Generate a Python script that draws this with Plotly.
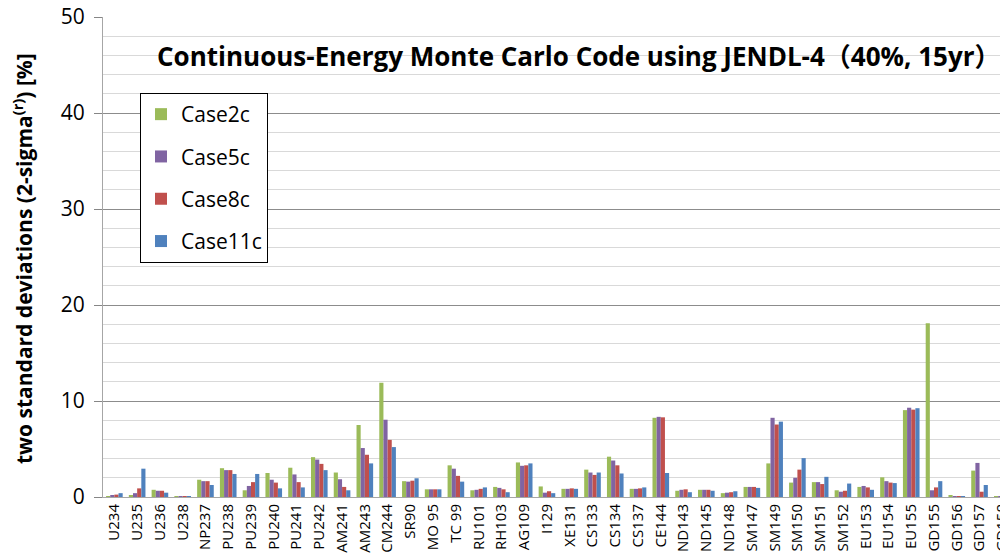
import plotly.graph_objects as go

categories = ["U234", "U235", "U236", "U238", "NP237", "PU238", "PU239", "PU240", "PU241", "PU242",
              "AM241", "AM243", "CM244", "SR90", "MO 95", "TC 99", "RU101", "RH103", "AG109", "I129",
              "XE131", "CS133", "CS134", "CS137", "CE144", "ND143", "ND145", "ND148", "SM147", "SM149",
              "SM150", "SM151", "SM152", "EU153", "EU154", "EU155", "GD155", "GD156", "GD157", "GD158"]

case2c = [0.1, 0.2, 0.75, 0.05, 1.8, 3.0, 0.7, 2.5, 3.05, 4.15,
          2.55, 7.5, 11.9, 1.65, 0.8, 3.3, 0.7, 1.05, 3.6, 1.1,
          0.85, 2.85, 4.2, 0.85, 8.25, 0.65, 0.75, 0.4, 1.05, 3.5,
          1.5, 1.55, 0.7, 1.05, 2.05, 9.05, 18.1, 0.2, 2.75, 0.05]
case5c = [0.2, 0.4, 0.65, 0.02, 1.65, 2.8, 1.15, 1.8, 2.35, 3.9,
          1.85, 5.1, 8.05, 1.6, 0.8, 2.95, 0.75, 0.95, 3.25, 0.45,
          0.85, 2.55, 3.8, 0.85, 8.35, 0.75, 0.75, 0.45, 1.05, 8.25,
          2.0, 1.55, 0.55, 1.15, 1.65, 9.3, 0.7, 0.05, 3.55, 0.1]
case8c = [0.25, 0.9, 0.65, 0.02, 1.65, 2.8, 1.55, 1.5, 1.55, 3.45,
          1.05, 4.4, 5.95, 1.7, 0.8, 2.2, 0.85, 0.8, 3.3, 0.6,
          0.9, 2.3, 3.3, 0.9, 8.3, 0.8, 0.75, 0.5, 1.05, 7.55,
          2.85, 1.35, 0.65, 1.0, 1.5, 9.1, 1.0, 0.05, 0.55, 0.1]
case11c = [0.4, 2.95, 0.45, 0.1, 1.25, 2.4, 2.4, 0.9, 1.0, 2.8,
           0.7, 3.5, 5.2, 1.95, 0.8, 1.6, 1.0, 0.5, 3.5, 0.4,
           0.85, 2.55, 2.45, 1.0, 2.5, 0.5, 0.65, 0.6, 0.95, 7.85,
           4.05, 2.1, 1.4, 0.75, 1.45, 9.25, 1.65, 0.05, 1.25, 0.1]

series = [("Case2c", case2c, "#9BBB59"), ("Case5c", case5c, "#8064A2"),
          ("Case8c", case8c, "#C0504D"), ("Case11c", case11c, "#4F81BD")]

title_text = "Continuous-Energy Monte Carlo Code using JENDL-4（40%, 15yr）"
ytitle_text = "two standard deviations (2-sigma<sup>(r)</sup>) [%]"

# the page body has an 8px margin, so the figure is drawn 8px in from the window corner
W, H = 1000, 549
ML, MR, MT, MB = 95, 0, 9, 60
plot_w = W - ML - MR
plot_h = H - MT - MB

def px_to_paper(xw, yw):
    xf, yf = xw - 8, yw - 8
    return (xf - ML) / plot_w, (H - MB - yf) / plot_h

fig = go.Figure()
for name, vals, color in series:
    fig.add_trace(go.Bar(x=categories, y=vals, name=name, marker_color=color,
                         marker_line_width=0, legendgroup=name))

tx, ty = px_to_paper(578, 56)
yx, yy = px_to_paper(22, 259)
lx, ly = px_to_paper(140, 93)

fig.update_layout(
    width=W, height=H,
    margin=dict(l=ML, r=MR, t=MT, b=MB),
    paper_bgcolor="white", plot_bgcolor="white",
    barmode="group", bargap=0.27, bargroupgap=0,
    font=dict(family="Open Sans, Noto Sans CJK JP, sans-serif", color="black"),
    showlegend=True,
    legend=dict(x=lx, y=ly, xanchor="left", yanchor="top",
                bordercolor="black", borderwidth=1, bgcolor="white",
                font=dict(size=21, family="Open Sans, sans-serif"),
                traceorder="grouped", tracegroupgap=12, itemwidth=30),
    annotations=[
        dict(text="<b>" + title_text + "</b>", x=tx, y=ty, xref="paper", yref="paper",
             xanchor="center", yanchor="middle", showarrow=False,
             font=dict(size=26, family="Open Sans, Noto Sans CJK JP, sans-serif")),
        dict(text="<b>" + ytitle_text + "</b>", x=yx, y=yy, xref="paper", yref="paper",
             xanchor="center", yanchor="middle", textangle=-90, showarrow=False,
             font=dict(size=21, family="Open Sans, sans-serif")),
    ],
)

fig.update_xaxes(
    range=[-0.5, 39.25], tickangle=-90, tickfont=dict(size=15, family="Open Sans, sans-serif"),
    showline=True, linecolor="#A6A6A6", linewidth=1, showgrid=False,
    ticks="", automargin=False, ticklabeloverflow="allow",
)
fig.update_yaxes(
    range=[0, 50], dtick=10, tick0=0,
    tickfont=dict(size=21, family="Open Sans, sans-serif"),
    showline=True, linecolor="#A6A6A6", linewidth=1,
    ticks="outside", ticklen=8, tickcolor="#868686", ticklabelstandoff=5,
    showgrid=True, gridcolor="#8C8C8C", gridwidth=1,
    minor=dict(dtick=2, showgrid=True, gridcolor="#D9D9D9", gridwidth=1),
    zeroline=False, automargin=False, ticklabeloverflow="allow",
)

fig.write_html("out.html")
